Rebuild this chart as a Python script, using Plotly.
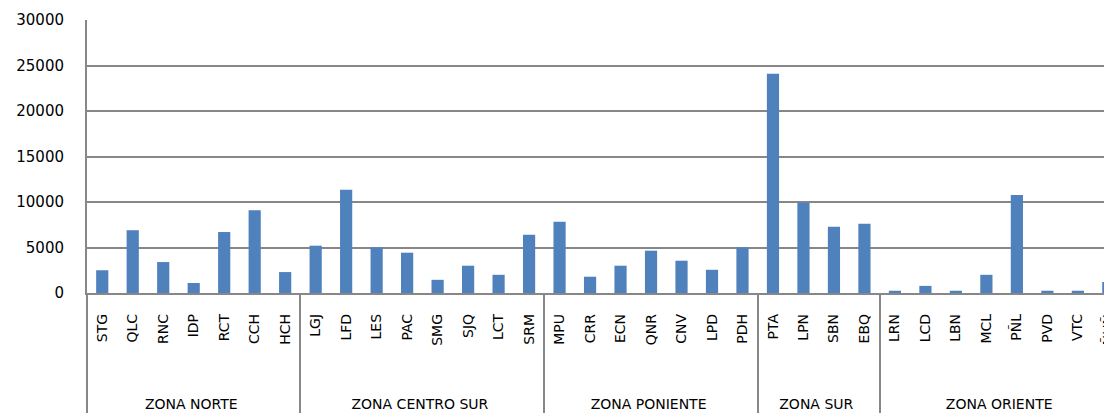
import plotly.graph_objects as go

zones = (["ZONA NORTE"] * 7 + ["ZONA CENTRO SUR"] * 8 + ["ZONA PONIENTE"] * 7
         + ["ZONA SUR"] * 4 + ["ZONA ORIENTE"] * 8)
codes = ["STG", "QLC", "RNC", "IDP", "RCT", "CCH", "HCH",
         "LGJ", "LFD", "LES", "PAC", "SMG", "SJQ", "LCT", "SRM",
         "MPU", "CRR", "ECN", "QNR", "CNV", "LPD", "PDH",
         "PTA", "LPN", "SBN", "EBQ",
         "LRN", "LCD", "LBN", "MCL", "PÑL", "PVD", "VTC", "ÑUÑ"]
values = [2500, 6900, 3400, 1100, 6700, 9100, 2300,
          5200, 11350, 5000, 4430, 1450, 3000, 2000, 6400,
          7830, 1790, 3000, 4650, 3550, 2550, 5000,
          24100, 9950, 7280, 7620,
          250, 780, 250, 2000, 10780, 250, 250, 1200]

FONT = "DejaVu Sans"
GRID = "#878787"
NB = "\u00a0"

fig = go.Figure(go.Bar(x=[zones, [NB * 8 + c + NB * 3 for c in codes]], y=values,
                       marker_color="#4F81BD", marker_line_width=0))

fig.update_layout(
    width=1104, height=409,
    margin=dict(l=79, r=0, t=12, b=124),
    plot_bgcolor="white", paper_bgcolor="white",
    bargap=0.6, showlegend=False,
    font=dict(family=FONT, size=14, color="#000000"),
)
fig.update_yaxes(range=[0, 30000], dtick=5000, tickformat="d", showgrid=True,
                 gridcolor=GRID, gridwidth=1.5, showline=True, linecolor=GRID,
                 linewidth=2, ticks="", tickfont=dict(family=FONT, size=15),
                 zeroline=False, ticklabelstandoff=18, automargin=False)
fig.update_xaxes(type="multicategory", range=[-0.5, 33.12], tickangle=-90,
                 showline=True, linecolor=GRID, linewidth=2,
                 showdividers=True, dividercolor=GRID, dividerwidth=2,
                 ticks="", tickfont=dict(family=FONT, size=14),
                 automargin=False)

fig.write_html("out.html")
